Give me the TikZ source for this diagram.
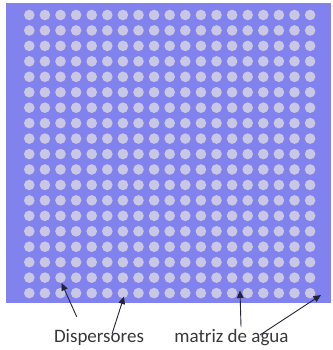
\documentclass[tikz,border=0pt]{standalone}
\usepackage{fontspec}
\setmainfont{Carlito}
\usetikzlibrary{arrows.meta}
\definecolor{matriz}{RGB}{130,130,238}
\definecolor{disp}{RGB}{200,200,228}
\definecolor{flecha}{RGB}{35,35,55}
\begin{document}
\begin{tikzpicture}[x=1pt,y=-1pt,
  lbl/.style={font=\fontsize{19}{21}\selectfont,text=black!78,inner sep=0pt,anchor=base},
  ar/.style={-{Triangle[length=7.5pt,width=6.5pt]},line width=0.9pt,draw=flecha}]
\useasboundingbox (0,0) rectangle (332,350);
% water matrix
\fill[matriz] (6,3) rectangle (331,303);
% scatterers, 19 x 19
\foreach \i in {0,...,18}
  \foreach \j in {0,...,18}
    \fill[disp] ({29.3+15.6*\i},{15+15.45*\j}) circle (5.3);
% labels
\node[lbl] (dsp) at (99,342) {Dispersores};
\node[lbl] (mat) at (231.5,342) {matriz de agua};
% arrow ends
\coordinate (d1) at (61.5,283);
\coordinate (d2) at (124,296.5);
\coordinate (m1) at (240,290.5);
\coordinate (m2) at (321,295);
\draw[ar] ([xshift=-22.3pt,yshift=25.3pt]dsp.base) -- (d1);
\draw[ar] ([xshift=13pt,yshift=8pt]dsp.base) -- (d2);
\draw[ar] ([xshift=9.5pt,yshift=15.3pt]mat.base) -- (m1);
\draw[ar] ([xshift=28.5pt,yshift=7pt]mat.base) -- (m2);
\end{tikzpicture}
\end{document}
